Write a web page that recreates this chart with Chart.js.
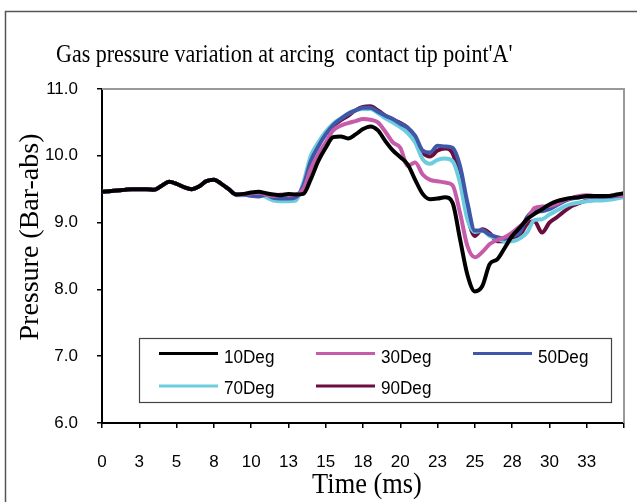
<!DOCTYPE html>
<html>
<head>
<meta charset="utf-8">
<script src="https://cdn.jsdelivr.net/npm/chart.js@4.4.1/dist/chart.umd.min.js"></script>
<style>
html,body{margin:0;padding:0;background:#fff;}
canvas{display:block;}
</style>
</head>
<body>
<canvas id="c" width="637" height="502"></canvas>
<script>
const chartTitle = "Gas pressure variation at arcing  contact tip point'A'";
const xTitle = "Time (ms)";
const yTitle = "Pressure (Bar-abs)";
const seriesLabels = ["10Deg", "30Deg", "50Deg", "70Deg", "90Deg"];
const seriesColors = ["#000000", "#C65BAA", "#3F57A8", "#6DCDDE", "#6B0D3E"];

const times = [0,0.5,1,1.5,2,2.5,3,3.5,4,4.5,5,5.5,6,6.5,7,7.5,8,8.5,9,9.5,10,10.5,11,11.5,12,12.5,
13,13.5,14,14.5,15,15.5,16,16.5,17,17.5,18,18.5,19,19.5,20,20.5,21,21.5,22,22.5,23,23.5,24,24.5,25,25.5,
26,26.5,27,27.5,28,28.5,29,29.5,30,30.5,31,31.5,32,32.5,33,33.5,34,34.5,35];

const deg10 = [9.46,9.47,9.48,9.49,9.50,9.50,9.50,9.49,9.55,9.61,9.58,9.53,9.50,9.54,9.62,9.64,9.58,9.50,9.42,9.43,9.45,9.46,9.44,9.42,9.41,9.43,
9.42,9.43,9.65,9.92,10.12,10.28,10.29,10.26,10.32,10.40,10.44,10.38,10.22,10.08,9.98,9.87,9.64,9.43,9.35,9.36,9.38,9.30,8.76,8.22,7.97,8.05,
8.38,8.45,8.62,8.80,8.92,9.05,9.13,9.20,9.27,9.32,9.35,9.37,9.38,9.40,9.40,9.40,9.40,9.42,9.44];

const deg30 = [9.46,9.47,9.48,9.49,9.50,9.50,9.50,9.49,9.55,9.61,9.58,9.53,9.50,9.54,9.62,9.64,9.58,9.50,9.42,9.42,9.44,9.45,9.42,9.40,9.42,9.41,
9.42,9.50,9.80,10.02,10.20,10.38,10.45,10.49,10.52,10.55,10.54,10.50,10.36,10.20,10.12,9.85,9.90,9.72,9.64,9.62,9.60,9.56,9.15,8.65,8.48,8.56,
8.68,8.74,8.78,8.85,8.94,9.04,9.22,9.24,9.25,9.28,9.34,9.37,9.40,9.41,9.40,9.40,9.40,9.41,9.40];

const deg50 = [9.46,9.47,9.48,9.49,9.50,9.50,9.50,9.49,9.55,9.61,9.58,9.53,9.50,9.54,9.62,9.64,9.58,9.50,9.42,9.42,9.40,9.39,9.42,9.37,9.36,9.36,
9.38,9.55,9.92,10.14,10.32,10.46,10.55,10.63,10.68,10.72,10.72,10.66,10.60,10.55,10.48,10.42,10.30,10.08,10.05,10.15,10.14,10.12,9.85,9.30,8.88,8.88,
8.82,8.78,8.76,8.80,8.85,9.08,9.17,9.17,9.20,9.26,9.32,9.36,9.38,9.39,9.39,9.39,9.39,9.40,9.41];

const deg70 = [9.46,9.47,9.48,9.49,9.50,9.50,9.50,9.49,9.55,9.61,9.58,9.53,9.50,9.54,9.62,9.64,9.58,9.50,9.41,9.41,9.43,9.44,9.38,9.33,9.32,9.32,
9.33,9.60,10.00,10.20,10.36,10.48,10.56,10.63,10.68,10.70,10.70,10.64,10.56,10.50,10.43,10.34,10.20,9.95,9.88,9.94,9.96,9.92,9.60,9.05,8.86,8.88,
8.80,8.76,8.72,8.72,8.76,8.85,9.04,9.05,9.12,9.18,9.24,9.28,9.30,9.32,9.33,9.33,9.34,9.36,9.38];

const deg90 = [9.46,9.47,9.48,9.49,9.50,9.50,9.50,9.49,9.55,9.61,9.58,9.53,9.50,9.54,9.62,9.64,9.58,9.50,9.42,9.42,9.44,9.45,9.41,9.36,9.35,9.36,
9.37,9.55,9.95,10.16,10.33,10.45,10.53,10.60,10.68,10.73,10.74,10.68,10.60,10.54,10.49,10.42,10.25,10.05,9.99,10.08,10.11,10.04,9.65,9.10,8.80,8.90,
8.84,8.72,8.72,8.78,8.81,8.98,9.02,8.85,9.00,9.08,9.17,9.25,9.29,9.33,9.34,9.34,9.36,9.38,9.42];

const seriesValues = [deg10, deg30, deg50, deg70, deg90];
const yTickMin = 6, yTickMax = 11, yTickStep = 1;
const xTickMin = 0, xTickMax = 35, xTickStep = 2.5;

const datasets = seriesLabels.map((lab, i) => ({
  label: lab,
  data: times.map((t, j) => ({x: t, y: seriesValues[i][j]})),
  borderColor: seriesColors[i],
  backgroundColor: seriesColors[i],
  borderWidth: 4,
  pointRadius: 0,
  cubicInterpolationMode: 'monotone',
  fill: false
}));
const SERIF = "'Liberation Serif', 'Times New Roman', serif";
const SANS = "'Liberation Sans', Arial, sans-serif";

const deco = {
  id: 'deco',
  beforeDraw(chart) {
    const ctx = chart.ctx;
    ctx.save();
    ctx.fillStyle = '#fff';
    ctx.fillRect(0, 0, chart.width, chart.height);
    ctx.strokeStyle = '#555';
    ctx.lineWidth = 1.5;
    ctx.strokeRect(5.5, 11.5, 700, 600);
    ctx.restore();
  },
  afterDatasetsDraw(chart) {
    const ctx = chart.ctx;
    const a = chart.chartArea;
    ctx.save();
    ctx.strokeStyle = '#999';
    ctx.lineWidth = 2;
    ctx.beginPath();
    ctx.moveTo(a.left, a.top);
    ctx.lineTo(a.right, a.top);
    ctx.lineTo(a.right, a.bottom);
    ctx.stroke();
    const lx = 139.5, ly = 338.5, lw = 472, lh = 64;
    ctx.fillStyle = '#fff';
    ctx.fillRect(lx, ly, lw, lh);
    ctx.strokeStyle = '#444';
    ctx.lineWidth = 1.2;
    ctx.strokeRect(lx, ly, lw, lh);
    const cols = [159, 316, 473];
    const rowLine = [353.5, 386];
    const rowBase = [362.5, 394];
    ctx.font = '18px ' + SANS;
    ctx.textAlign = 'left';
    ctx.textBaseline = 'alphabetic';
    chart.data.datasets.forEach((ds, i) => {
      const c = i % 3, r = Math.floor(i / 3);
      const x = cols[c];
      ctx.strokeStyle = ds.borderColor;
      ctx.lineWidth = 3;
      ctx.beginPath();
      ctx.moveTo(x, rowLine[r]);
      ctx.lineTo(x + 59, rowLine[r]);
      ctx.stroke();
      ctx.fillStyle = '#000';
      ctx.save();
      ctx.translate(x + 65, rowBase[r]);
      ctx.scale(0.95, 1);
      ctx.fillText(ds.label, 0, 0);
      ctx.restore();
    });
    ctx.restore();
  },
  afterDraw(chart) {
    const ctx = chart.ctx;
    ctx.save();
    ctx.fillStyle = '#000';
    ctx.textBaseline = 'alphabetic';
    ctx.font = '25px ' + SERIF;
    ctx.textAlign = 'left';
    ctx.save();
    ctx.translate(56, 62);
    ctx.scale(0.88, 1);
    ctx.fillText(chartTitle, 0, 0);
    ctx.restore();
    ctx.font = '30px ' + SERIF;
    ctx.textAlign = 'center';
    ctx.save();
    ctx.translate(367, 493);
    ctx.scale(0.88, 1);
    ctx.fillText(xTitle, 0, 0);
    ctx.restore();
    ctx.font = '28px ' + SERIF;
    ctx.save();
    ctx.translate(38, 237);
    ctx.rotate(-Math.PI / 2);
    ctx.textAlign = 'center';
    ctx.fillText(yTitle, 0, 0);
    ctx.restore();
    ctx.restore();
  }
};

new Chart(document.getElementById('c'), {
  type: 'line',
  data: { datasets },
  plugins: [deco],
  options: {
    responsive: false,
    animation: false,
    devicePixelRatio: 1,
    layout: { padding: { left: 0, right: 13, top: 89, bottom: 0 } },
    plugins: { legend: { display: false }, title: { display: false }, tooltip: { enabled: false } },
    scales: {
      x: {
        type: 'linear',
        min: xTickMin, max: xTickMax,
        afterFit(s) { s.height = 79; s.paddingLeft = 0; s.paddingRight = 0; },
        border: { display: true, color: '#000', width: 2 },
        grid: { drawOnChartArea: false, drawTicks: true, tickLength: 5, color: '#000', lineWidth: 1.5 },
        ticks: {
          stepSize: xTickStep, autoSkip: false, maxRotation: 0, padding: 24,
          color: '#000', font: { family: SANS, size: 17 },
          callback: (v) => (v >= xTickMax ? '' : String(Math.round(v)))
        }
      },
      y: {
        min: yTickMin, max: yTickMax,
        afterFit(s) { s.width = 102; s.paddingTop = 0; s.paddingBottom = 0; },
        border: { display: true, color: '#000', width: 2 },
        grid: { drawOnChartArea: false, drawTicks: true, tickLength: 5, color: '#000', lineWidth: 1.5 },
        ticks: {
          stepSize: yTickStep, padding: 19,
          color: '#000', font: { family: SANS, size: 17 },
          callback: (v) => v.toFixed(1)
        }
      }
    }
  }
});
</script>
</body>
</html>
